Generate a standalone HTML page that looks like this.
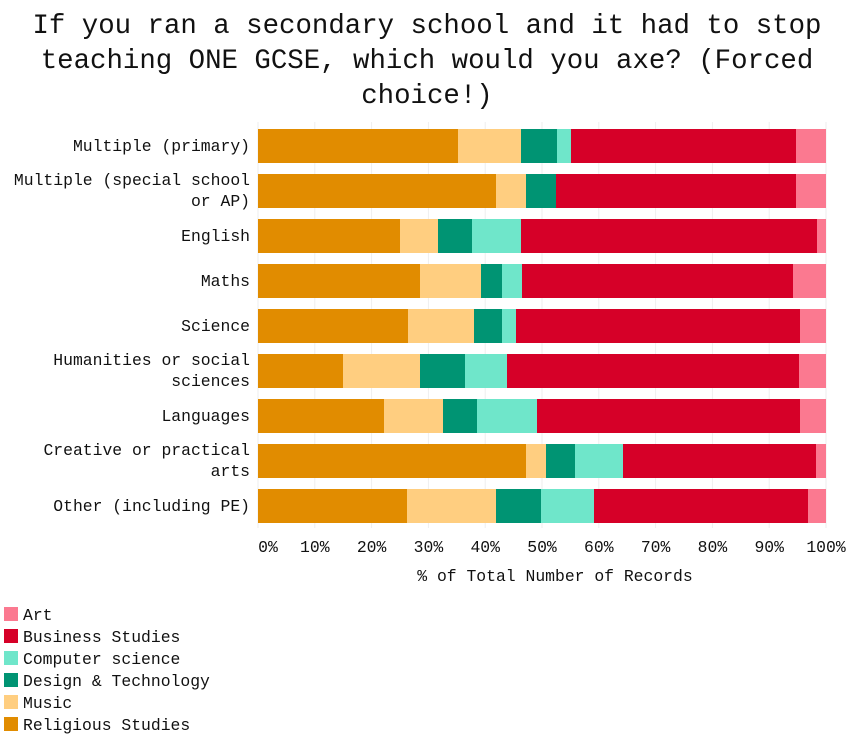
<!DOCTYPE html>
<html><head><meta charset="utf-8"><style>
body{margin:0;background:#fff;}
svg text{font-family:"Liberation Mono",monospace;fill:#111;}
</style></head><body>
<svg width="854" height="735" xmlns="http://www.w3.org/2000/svg">
<g font-size="27.4" text-anchor="middle">
<text x="427" y="33">If you ran a secondary school and it had to stop</text>
<text x="427" y="68">teaching ONE GCSE, which would you axe? (Forced</text>
<text x="427" y="103">choice!)</text>
</g>
<g stroke="#eee" stroke-width="1">
<line x1="258" y1="122" x2="258" y2="528"/><line x1="314.8" y1="122" x2="314.8" y2="528"/>
<line x1="371.6" y1="122" x2="371.6" y2="528"/><line x1="428.4" y1="122" x2="428.4" y2="528"/>
<line x1="485.2" y1="122" x2="485.2" y2="528"/><line x1="542" y1="122" x2="542" y2="528"/>
<line x1="598.8" y1="122" x2="598.8" y2="528"/><line x1="655.6" y1="122" x2="655.6" y2="528"/>
<line x1="712.4" y1="122" x2="712.4" y2="528"/><line x1="769.2" y1="122" x2="769.2" y2="528"/>
<line x1="826" y1="122" x2="826" y2="528"/>
</g>
<g id="bars">
<!-- row: y top, segments -->
<rect x="258" y="129" width="200" height="34" fill="#E18C00"/><rect x="458" y="129" width="63" height="34" fill="#FFCE80"/><rect x="521" y="129" width="36" height="34" fill="#009473"/><rect x="557" y="129" width="14" height="34" fill="#6FE6CA"/><rect x="571" y="129" width="225" height="34" fill="#D60028"/><rect x="796" y="129" width="30" height="34" fill="#FB7990"/>
<rect x="258" y="174" width="238" height="34" fill="#E18C00"/><rect x="496" y="174" width="30" height="34" fill="#FFCE80"/><rect x="526" y="174" width="30" height="34" fill="#009473"/><rect x="556" y="174" width="240" height="34" fill="#D60028"/><rect x="796" y="174" width="30" height="34" fill="#FB7990"/>
<rect x="258" y="219" width="142" height="34" fill="#E18C00"/><rect x="400" y="219" width="38" height="34" fill="#FFCE80"/><rect x="438" y="219" width="34" height="34" fill="#009473"/><rect x="472" y="219" width="49" height="34" fill="#6FE6CA"/><rect x="521" y="219" width="296" height="34" fill="#D60028"/><rect x="817" y="219" width="9" height="34" fill="#FB7990"/>
<rect x="258" y="264" width="162" height="34" fill="#E18C00"/><rect x="420" y="264" width="61" height="34" fill="#FFCE80"/><rect x="481" y="264" width="21" height="34" fill="#009473"/><rect x="502" y="264" width="20" height="34" fill="#6FE6CA"/><rect x="522" y="264" width="271" height="34" fill="#D60028"/><rect x="793" y="264" width="33" height="34" fill="#FB7990"/>
<rect x="258" y="309" width="150" height="34" fill="#E18C00"/><rect x="408" y="309" width="66" height="34" fill="#FFCE80"/><rect x="474" y="309" width="28" height="34" fill="#009473"/><rect x="502" y="309" width="14" height="34" fill="#6FE6CA"/><rect x="516" y="309" width="284" height="34" fill="#D60028"/><rect x="800" y="309" width="26" height="34" fill="#FB7990"/>
<rect x="258" y="354" width="85" height="34" fill="#E18C00"/><rect x="343" y="354" width="77" height="34" fill="#FFCE80"/><rect x="420" y="354" width="45" height="34" fill="#009473"/><rect x="465" y="354" width="42" height="34" fill="#6FE6CA"/><rect x="507" y="354" width="292" height="34" fill="#D60028"/><rect x="799" y="354" width="27" height="34" fill="#FB7990"/>
<rect x="258" y="399" width="126" height="34" fill="#E18C00"/><rect x="384" y="399" width="59" height="34" fill="#FFCE80"/><rect x="443" y="399" width="34" height="34" fill="#009473"/><rect x="477" y="399" width="60" height="34" fill="#6FE6CA"/><rect x="537" y="399" width="263" height="34" fill="#D60028"/><rect x="800" y="399" width="26" height="34" fill="#FB7990"/>
<rect x="258" y="444" width="268" height="34" fill="#E18C00"/><rect x="526" y="444" width="20" height="34" fill="#FFCE80"/><rect x="546" y="444" width="29" height="34" fill="#009473"/><rect x="575" y="444" width="48" height="34" fill="#6FE6CA"/><rect x="623" y="444" width="193" height="34" fill="#D60028"/><rect x="816" y="444" width="10" height="34" fill="#FB7990"/>
<rect x="258" y="489" width="149" height="34" fill="#E18C00"/><rect x="407" y="489" width="89" height="34" fill="#FFCE80"/><rect x="496" y="489" width="45" height="34" fill="#009473"/><rect x="541" y="489" width="53" height="34" fill="#6FE6CA"/><rect x="594" y="489" width="214" height="34" fill="#D60028"/><rect x="808" y="489" width="18" height="34" fill="#FB7990"/>
</g>
<g font-size="16.4" text-anchor="end">
<text x="250" y="151">Multiple (primary)</text>
<text x="250" y="185">Multiple (special school</text>
<text x="250" y="206">or AP)</text>
<text x="250" y="241">English</text>
<text x="250" y="286">Maths</text>
<text x="250" y="331">Science</text>
<text x="250" y="365">Humanities or social</text>
<text x="250" y="386">sciences</text>
<text x="250" y="421">Languages</text>
<text x="250" y="455">Creative or practical</text>
<text x="250" y="476">arts</text>
<text x="250" y="511">Other (including PE)</text>
</g>
<g font-size="16.4" text-anchor="middle">
<text x="268" y="552">0%</text><text x="314.8" y="552">10%</text><text x="371.6" y="552">20%</text><text x="428.4" y="552">30%</text><text x="485.2" y="552">40%</text><text x="542" y="552">50%</text><text x="598.8" y="552">60%</text><text x="655.6" y="552">70%</text><text x="712.4" y="552">80%</text><text x="769.2" y="552">90%</text><text x="826" y="552">100%</text>
<text x="555" y="581">% of Total Number of Records</text>
</g>
<g font-size="16.4">
<rect x="4" y="607" width="14" height="14" fill="#FB7990"/><text x="23" y="620">Art</text>
<rect x="4" y="629" width="14" height="14" fill="#D60028"/><text x="23" y="642">Business Studies</text>
<rect x="4" y="651" width="14" height="14" fill="#6FE6CA"/><text x="23" y="664">Computer science</text>
<rect x="4" y="673" width="14" height="14" fill="#009473"/><text x="23" y="686">Design &amp; Technology</text>
<rect x="4" y="695" width="14" height="14" fill="#FFCE80"/><text x="23" y="708">Music</text>
<rect x="4" y="717" width="14" height="14" fill="#E18C00"/><text x="23" y="730">Religious Studies</text>
</g>
</svg>
</body></html>
